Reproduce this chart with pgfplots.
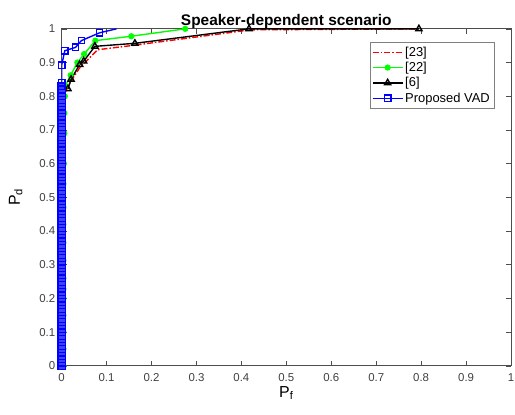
\documentclass[border=0pt]{standalone}
\usepackage{fontspec}
\setmainfont{Liberation Sans}
\usepackage{pgfplots}
\pgfplotsset{compat=1.18}
\definecolor{axgray}{HTML}{4D4D4D}
\definecolor{tickgray}{HTML}{404040}
\begin{document}
\begin{tikzpicture}[x=1pt,y=1pt]
\begin{axis}[
  scale only axis, width=452pt, height=339pt,
  xmin=0, xmax=1, ymin=0, ymax=1,
  xtick={0,0.1,...,1}, ytick={0,0.1,...,1},
  xticklabels={0,0.1,0.2,0.3,0.4,0.5,0.6,0.7,0.8,0.9,1},
  yticklabels={0,0.1,0.2,0.3,0.4,0.5,0.6,0.7,0.8,0.9,1},
  tick align=inside, major tick length=5pt,
  axis line style={axgray, line width=0.8pt},
  every tick/.style={axgray, line width=0.6pt},
  ticklabel style={font=\fontsize{11.5}{13}\selectfont, text=tickgray},
  /pgf/number format/assume math mode=true,
  xticklabel style={yshift=-4pt},
  yticklabel style={xshift=-3pt},
  title={\fontsize{15.5}{17}\selectfont\bfseries Speaker-dependent scenario},
  title style={yshift=-9pt},
  xlabel={\fontsize{16}{18}\selectfont P\textsubscript{f}},
  ylabel={\fontsize{16}{18}\selectfont P\textsubscript{d}},
  xlabel style={yshift=2pt},
  ylabel style={yshift=10pt},
  legend cell align=left,
  legend style={at={(0.962,0.962)}, anchor=north east, draw=gray,
    font=\fontsize{13}{15}\selectfont, row sep=0.5pt, inner xsep=2pt, inner ysep=3pt},
  legend image code/.code={\draw[mark repeat=2,mark phase=2,#1,line width=1.4pt]
    plot coordinates {(0pt,0pt) (15pt,0pt) (30pt,0pt)};},
  clip=true,
]
% [23]
\addplot[red, line width=1.4pt, dash pattern=on 6pt off 2pt on 1.5pt off 2pt] coordinates {
 (0,0) (0.005,0.5) (0.006,0.8) (0.01,0.818) (0.02,0.843) (0.04,0.884) (0.05,0.898)
 (0.08,0.938) (0.16,0.951) (0.42,0.997) (0.8,1.0)};
\addlegendentry{{[23]}}
% [22]
\addplot[green, line width=1.4pt, mark=*, mark size=2.4pt, mark options={solid, fill=green}] coordinates {
 (0.004,0) (0.004,0.05) (0.004,0.1) (0.004,0.15) (0.004,0.2) (0.004,0.228) (0.004,0.26)
 (0.004,0.313) (0.004,0.366) (0.004,0.42) (0.004,0.47) (0.004,0.54) (0.005,0.6) (0.006,0.69)
 (0.006,0.75) (0.007,0.8) (0.008,0.83) (0.02,0.862) (0.035,0.9) (0.05,0.925) (0.075,0.965)
 (0.155,0.978) (0.275,1.0)};
\addlegendentry{{[22]}}
% [6]
\addplot[black, line width=1.4pt, mark=triangle, mark size=3.6pt, mark options={solid, fill=none}] coordinates {
 (0.014,0.822) (0.021,0.85) (0.040,0.894) (0.049,0.904) (0.074,0.948) (0.163,0.957)
 (0.417,1.0) (0.795,1.0)};
\addlegendentry{{[6]}}
% Proposed VAD: dense column of points at Pf = 0
\addplot[blue, line width=1.4pt, mark=square*, mark size=3.6pt,
  mark options={solid, fill=blue!75!white, line width=1.2pt}, forget plot] coordinates {
 (0,0) (0,0.01) (0,0.02) (0,0.03) (0,0.04) (0,0.05) (0,0.06) (0,0.07) (0,0.08) (0,0.09)
 (0,0.10) (0,0.11) (0,0.12) (0,0.13) (0,0.14) (0,0.15) (0,0.16) (0,0.17) (0,0.18) (0,0.19)
 (0,0.20) (0,0.21) (0,0.22) (0,0.23) (0,0.24) (0,0.25) (0,0.26) (0,0.27) (0,0.28) (0,0.29)
 (0,0.30) (0,0.31) (0,0.32) (0,0.33) (0,0.34) (0,0.35) (0,0.36) (0,0.37) (0,0.38) (0,0.39)
 (0,0.40) (0,0.41) (0,0.42) (0,0.43) (0,0.44) (0,0.45) (0,0.46) (0,0.47) (0,0.48) (0,0.49)
 (0,0.50) (0,0.51) (0,0.52) (0,0.53) (0,0.54) (0,0.55) (0,0.56) (0,0.57) (0,0.58) (0,0.59)
 (0,0.60) (0,0.61) (0,0.62) (0,0.63) (0,0.64) (0,0.65) (0,0.66) (0,0.67) (0,0.68) (0,0.69)
 (0,0.70) (0,0.71) (0,0.72) (0,0.73) (0,0.74) (0,0.75) (0,0.76) (0,0.77) (0,0.78) (0,0.79)
 (0,0.80) (0,0.81) (0,0.82) (0,0.83)};
\addplot[blue, line width=1.4pt, mark=square, mark size=3.2pt, mark options={solid}] coordinates {
 (0,0.83) (0,0.84) (0,0.892) (0.007,0.935) (0.031,0.945) (0.044,0.965) (0.084,0.988)};
\addlegendentry{Proposed VAD}
\addplot[blue, line width=1.4pt, forget plot] coordinates {(0.084,0.988) (0.122,1.0)};
\coordinate (sw) at (rel axis cs:0,0);
\coordinate (ne) at (rel axis cs:1,1);
\end{axis}
\pgfresetboundingbox
\useasboundingbox ([shift={(-62pt,-49pt)}]sw) rectangle ([shift={(4pt,29pt)}]ne);
\end{tikzpicture}
\end{document}
